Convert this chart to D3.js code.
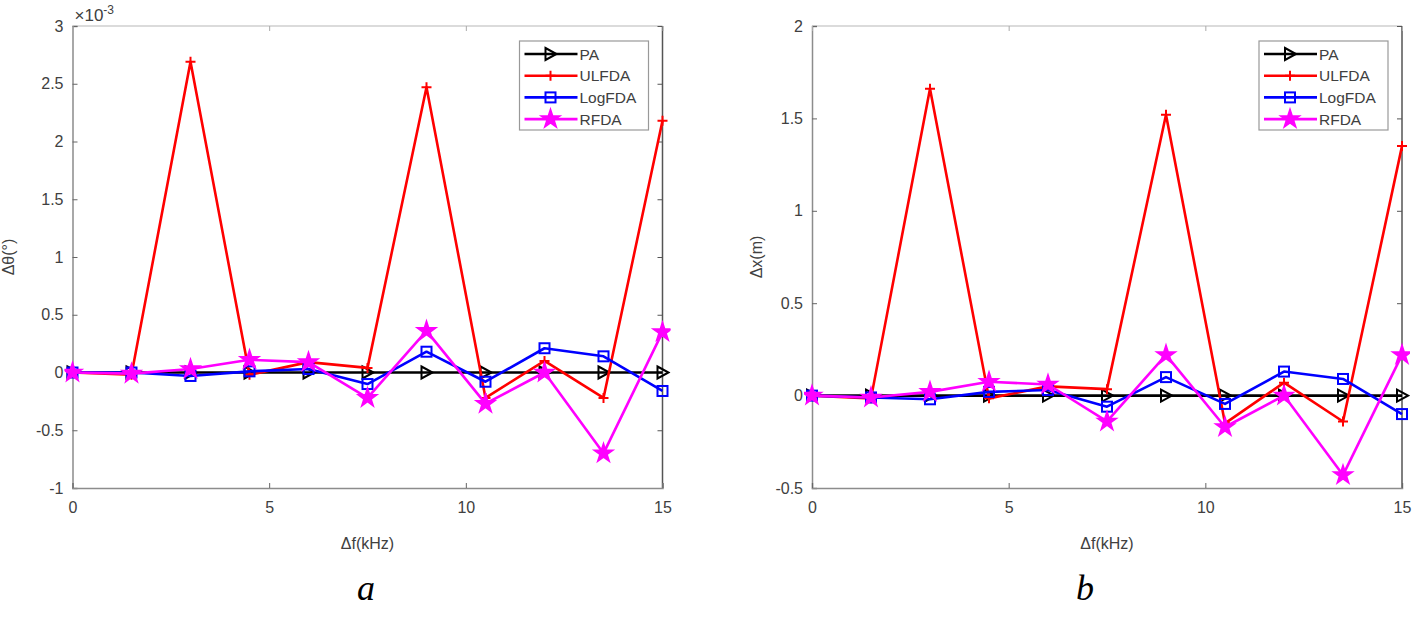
<!DOCTYPE html>
<html><head><meta charset="utf-8">
<script src="https://cdn.jsdelivr.net/npm/d3@7"></script>
<style>body{margin:0;background:#fff}svg{display:block}</style>
</head><body>
<svg id="c" width="1416" height="618"></svg>
<script>
const freqs = [0, 1.5, 3, 4.5, 6, 7.5, 9, 10.5, 12, 13.5, 15];
const seriesNames = ["PA", "ULFDA", "LogFDA", "RFDA"];
// panel a (×10^-3 degrees)
const aPA     = [0,0,0,0,0,0,0,0,0,0,0];
const aULFDA  = [0,-0.02,2.69,-0.02,0.09,0.04,2.47,-0.22,0.1,-0.22,2.18];
const aLogFDA = [0,0,-0.03,0.01,0.03,-0.1,0.18,-0.08,0.21,0.14,-0.16];
const aRFDA   = [0,-0.01,0.03,0.11,0.09,-0.22,0.36,-0.27,0,-0.7,0.35];
// panel b (m)
const bPA     = [0,0,0,0,0,0,0,0,0,0,0];
const bULFDA  = [0,-0.015,1.66,-0.015,0.05,0.035,1.52,-0.15,0.07,-0.14,1.35];
const bLogFDA = [0,-0.01,-0.02,0.02,0.03,-0.06,0.1,-0.045,0.13,0.09,-0.1];
const bRFDA   = [0,-0.01,0.02,0.075,0.06,-0.14,0.22,-0.17,0,-0.43,0.22];
const xTicks = [0,5,10,15];
const aYTicks = [-1,-0.5,0,0.5,1,1.5,2,2.5,3];
const bYTicks = [-0.5,0,0.5,1,1.5,2];

const colors = ["#000000","#ff0000","#0000ff","#ff00ff"];
const svg = d3.select("#c");
const FONT = "Liberation Sans, Arial, sans-serif";

function marker(g, type, color, x, y){
  if(type===0){ // right triangle, open
    g.append("path").attr("d",`M${x-5},${y-6}L${x+6},${y}L${x-5},${y+6}Z`)
      .attr("fill","none").attr("stroke",color).attr("stroke-width",2);
  } else if(type===1){ // plus
    g.append("path").attr("d",`M${x-5},${y}H${x+5}M${x},${y-5}V${y+5}`)
      .attr("fill","none").attr("stroke",color).attr("stroke-width",2);
  } else if(type===2){ // open square
    g.append("rect").attr("x",x-5).attr("y",y-5).attr("width",10).attr("height",10)
      .attr("fill","none").attr("stroke",color).attr("stroke-width",2);
  } else { // star
    g.append("path").attr("d",d3.symbol(d3.symbolStar,110)())
      .attr("transform",`translate(${x},${y})`)
      .attr("fill",color).attr("stroke",color).attr("stroke-width",1.5).attr("stroke-linejoin","miter");
  }
}

function panel(o){
  const {L,R,T,B,yDomain,yTicks,data,ylabel,ylabelX,mult,letter,letterX} = o;
  const x = d3.scaleLinear().domain([0,15]).range([L,R]);
  const y = d3.scaleLinear().domain(yDomain).range([B,T]);
  const g = svg.append("g");
  const clipId = "clip"+letter;
  svg.append("clipPath").attr("id",clipId).append("rect")
    .attr("x",L-8).attr("y",T-8).attr("width",R-L+16).attr("height",B-T+16);
  // frame
  g.append("line").attr("x1",L).attr("x2",R).attr("y1",T).attr("y2",T).attr("stroke","#cfcfcf").attr("stroke-width",1.5);
  g.append("line").attr("x1",R).attr("x2",R).attr("y1",T).attr("y2",B).attr("stroke","#555").attr("stroke-width",1.5);
  // axes
  const yAxis = d3.axisLeft(y).tickValues(yTicks).tickSize(-5).tickPadding(9).tickFormat(d=>String(d));
  const ga = g.append("g").attr("transform",`translate(${L},0)`).call(yAxis);
  ga.select(".domain").attr("stroke","#8c8c8c").attr("stroke-width",1.5);
  ga.selectAll(".tick line").attr("stroke","#666");
  ga.selectAll("text").attr("font-family",FONT).attr("font-size",16).attr("fill","#404040");
  // right ticks
  const gr = g.append("g").attr("transform",`translate(${R},0)`).call(d3.axisRight(y).tickValues(yTicks).tickSize(-5).tickFormat(""));
  gr.select(".domain").remove(); gr.selectAll(".tick line").attr("stroke","#555");
  const xAxis = d3.axisBottom(x).tickValues(xTicks).tickSize(-5).tickPadding(14).tickFormat(d=>String(d));
  const gx = g.append("g").attr("transform",`translate(0,${B})`).call(xAxis);
  gx.select(".domain").attr("stroke","#8c8c8c").attr("stroke-width",1.5);
  gx.selectAll(".tick line").attr("stroke","#666");
  gx.selectAll("text").attr("font-family",FONT).attr("font-size",16).attr("fill","#404040");
  const gt = g.append("g").attr("transform",`translate(0,${T})`).call(d3.axisTop(x).tickValues(xTicks).tickSize(-5).tickFormat(""));
  gt.select(".domain").remove(); gt.selectAll(".tick line").attr("stroke","#aaa");
  // labels
  g.append("text").attr("x",(L+R)/2).attr("y",549).attr("text-anchor","middle")
    .attr("font-family",FONT).attr("font-size",16).attr("fill","#404040").text("Δf(kHz)");
  g.append("text").attr("transform",`translate(${ylabelX},${(T+B)/2}) rotate(-90)`).attr("text-anchor","middle")
    .attr("font-family",FONT).attr("font-size",16).attr("fill","#404040").text(ylabel);
  if(mult){
    const t = g.append("text").attr("x",L+2).attr("y",T-5).attr("font-family",FONT).attr("font-size",17).attr("fill","#404040");
    t.append("tspan").text("×10");
    t.append("tspan").attr("dy",-7).attr("font-size",12).text("-3");
  }
  g.append("text").attr("x",letterX).attr("y",600).attr("text-anchor","middle")
    .attr("font-family","Liberation Serif, Times New Roman, serif").attr("font-style","italic")
    .attr("font-size",36).attr("fill","#000").text(letter);
  // series
  const plot = g.append("g").attr("clip-path",`url(#${clipId})`);
  const line = d3.line().x((d,i)=>x(freqs[i])).y(d=>y(d));
  data.forEach((s,k)=>{
    plot.append("path").datum(s).attr("d",line).attr("fill","none")
      .attr("stroke",colors[k]).attr("stroke-width",2.6).attr("stroke-linejoin","round");
    s.forEach((v,i)=>marker(plot,k,colors[k],x(freqs[i]),y(v)));
  });
  // legend
  const lx = R-143, ly = T+15, lw = 129, lh = 89;
  const lg = g.append("g");
  lg.append("rect").attr("x",lx).attr("y",ly).attr("width",lw).attr("height",lh)
    .attr("fill","#fff").attr("stroke","#999").attr("stroke-width",1.2);
  seriesNames.forEach((n,k)=>{
    const yy = ly+13+k*21.7;
    lg.append("line").attr("x1",lx+5).attr("x2",lx+58).attr("y1",yy).attr("y2",yy)
      .attr("stroke",colors[k]).attr("stroke-width",2.6);
    marker(lg,k,colors[k],lx+31,yy);
    lg.append("text").attr("x",lx+60).attr("y",yy+5.5).attr("font-family",FONT).attr("font-size",15.5)
      .attr("fill","#404040").text(n);
  });
}

panel({L:72.5,R:662.5,T:26,B:488,yDomain:[-1,3],yTicks:aYTicks,data:[aPA,aULFDA,aLogFDA,aRFDA],
  ylabel:"Δθ(°)",ylabelX:14,mult:true,letter:"a",letterX:366});
panel({L:812,R:1402,T:26,B:488,yDomain:[-0.5,2],yTicks:bYTicks,data:[bPA,bULFDA,bLogFDA,bRFDA],
  ylabel:"Δx(m)",ylabelX:762,mult:false,letter:"b",letterX:1085});
</script>
</body></html>
